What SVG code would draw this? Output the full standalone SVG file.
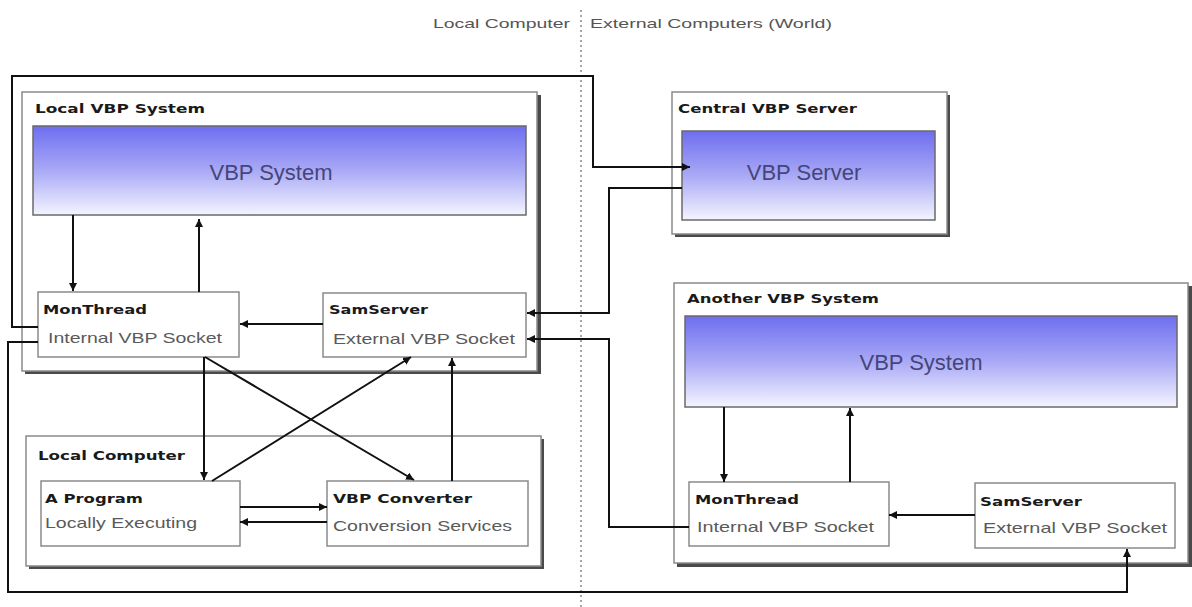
<svg xmlns="http://www.w3.org/2000/svg" width="1192" height="607" viewBox="0 0 1192 607">
<style>
.shadow{fill:#4a4a4a}
.frame{fill:#fff;stroke:#8a8a8a;stroke-width:1.5}
.inner{fill:#fff;stroke:#8a8a8a;stroke-width:1.5}
.grad{fill:url(#g);stroke:#6a6a6a;stroke-width:1.5}
.title{font-family:"DejaVu Sans",sans-serif;font-weight:bold;font-size:13px;fill:#1a1a1a}
.sub{font-family:"Liberation Sans",Arial,sans-serif;font-size:15px;fill:#5a5a5a}
.big{font-family:"Liberation Sans",Arial,sans-serif;font-size:22px;fill:#45457a;text-anchor:middle}
.hdr{font-family:"Liberation Sans",Arial,sans-serif;font-size:13px;fill:#555}
.c{fill:none;stroke:#111;stroke-width:2}
</style>
<defs>
<linearGradient id="g" x1="0" y1="0" x2="0" y2="1">
<stop offset="0" stop-color="#6e6ef0"/>
<stop offset="0.5" stop-color="#a9a9f6"/>
<stop offset="1" stop-color="#f4f4ff"/>
</linearGradient>
<marker id="a" viewBox="0 0 8 8" refX="8" refY="4" markerWidth="8" markerHeight="8" markerUnits="userSpaceOnUse" orient="auto">
<path d="M0,0 L8,4 L0,8 z" fill="#111"/>
</marker>
</defs>
<rect width="1192" height="607" fill="#fff"/>

<g id="divider">
<line x1="581" y1="10" x2="581" y2="607" stroke="#888" stroke-width="1.5" stroke-dasharray="2,3"/>
<text class="hdr" x="433" y="28" textLength="137" lengthAdjust="spacingAndGlyphs">Local Computer</text>
<text class="hdr" x="590" y="28" textLength="242" lengthAdjust="spacingAndGlyphs">External Computers (World)</text>
</g>

<g id="local-vbp-system">
<rect class="shadow" x="25" y="95" width="516" height="279"/>
<rect class="frame" x="22" y="92" width="515" height="279"/>
<text class="title" x="35" y="113" textLength="170" lengthAdjust="spacingAndGlyphs">Local VBP System</text>
</g>
<g id="vbp-system-1">
<rect class="grad" x="33" y="126" width="493" height="89"/>
<text class="big" x="271" y="180">VBP System</text>
</g>
<g id="monthread-1">
<rect class="inner" x="38" y="292" width="201" height="65"/>
<text class="title" x="43" y="314" textLength="104" lengthAdjust="spacingAndGlyphs">MonThread</text>
<text class="sub" x="48" y="343" textLength="174" lengthAdjust="spacingAndGlyphs">Internal VBP Socket</text>
</g>
<g id="samserver-1">
<rect class="inner" x="323" y="293" width="203" height="64"/>
<text class="title" x="329" y="314" textLength="99" lengthAdjust="spacingAndGlyphs">SamServer</text>
<text class="sub" x="333" y="344" textLength="182" lengthAdjust="spacingAndGlyphs">External VBP Socket</text>
</g>

<g id="local-computer">
<rect class="shadow" x="29" y="439" width="515" height="130"/>
<rect class="frame" x="26" y="436" width="515" height="130"/>
<text class="title" x="38" y="460" textLength="147" lengthAdjust="spacingAndGlyphs">Local Computer</text>
</g>
<g id="a-program">
<rect class="inner" x="41" y="481" width="199" height="65"/>
<text class="title" x="45" y="503" textLength="98" lengthAdjust="spacingAndGlyphs">A Program</text>
<text class="sub" x="45" y="528" textLength="152" lengthAdjust="spacingAndGlyphs">Locally Executing</text>
</g>
<g id="vbp-converter">
<rect class="inner" x="327" y="481" width="201" height="65"/>
<text class="title" x="333" y="503" textLength="139" lengthAdjust="spacingAndGlyphs">VBP Converter</text>
<text class="sub" x="333" y="531" textLength="179" lengthAdjust="spacingAndGlyphs">Conversion Services</text>
</g>

<g id="central-vbp-server">
<rect class="shadow" x="675" y="95" width="275" height="142"/>
<rect class="frame" x="672" y="92" width="275" height="142"/>
<text class="title" x="678" y="113" textLength="179" lengthAdjust="spacingAndGlyphs">Central VBP Server</text>
</g>
<g id="vbp-server">
<rect class="grad" x="682" y="131" width="253" height="89"/>
<text class="big" x="804" y="180">VBP Server</text>
</g>

<g id="another-vbp-system">
<rect class="shadow" x="677" y="286" width="515" height="281"/>
<rect class="frame" x="674" y="283" width="514" height="280"/>
<text class="title" x="687" y="303" textLength="192" lengthAdjust="spacingAndGlyphs">Another VBP System</text>
</g>
<g id="vbp-system-2">
<rect class="grad" x="685" y="316" width="492" height="91"/>
<text class="big" x="921" y="370">VBP System</text>
</g>
<g id="monthread-2">
<rect class="inner" x="689" y="482" width="200" height="64"/>
<text class="title" x="695" y="504" textLength="104" lengthAdjust="spacingAndGlyphs">MonThread</text>
<text class="sub" x="697" y="532" textLength="177" lengthAdjust="spacingAndGlyphs">Internal VBP Socket</text>
</g>
<g id="samserver-2">
<rect class="inner" x="975" y="483" width="200" height="65"/>
<text class="title" x="980" y="506" textLength="102" lengthAdjust="spacingAndGlyphs">SamServer</text>
<text class="sub" x="983" y="533" textLength="184" lengthAdjust="spacingAndGlyphs">External VBP Socket</text>
</g>

<g id="connectors">
<path class="c" d="M38,327 H12 V76 H593 V167 H690" marker-end="url(#a)"/>
<path class="c" d="M682,188 H609 V313 H527" marker-end="url(#a)"/>
<path class="c" d="M689,527 H609 V339 H527" marker-end="url(#a)"/>
<path class="c" d="M38,342 H8 V592 H1127 V549" marker-end="url(#a)"/>
<path class="c" d="M73,215 V291" marker-end="url(#a)"/>
<path class="c" d="M199,292 V219" marker-end="url(#a)"/>
<path class="c" d="M323,324 H240" marker-end="url(#a)"/>
<path class="c" d="M204,357 V480" marker-end="url(#a)"/>
<path class="c" d="M205,357 L414,480" marker-end="url(#a)"/>
<path class="c" d="M212,481 L411,357" marker-end="url(#a)"/>
<path class="c" d="M452,481 V358" marker-end="url(#a)"/>
<path class="c" d="M240,507 H327" marker-end="url(#a)"/>
<path class="c" d="M327,522 H240" marker-end="url(#a)"/>
<path class="c" d="M724,407 V482" marker-end="url(#a)"/>
<path class="c" d="M850,482 V408" marker-end="url(#a)"/>
<path class="c" d="M975,515 H889" marker-end="url(#a)"/>
</g>
</svg>
